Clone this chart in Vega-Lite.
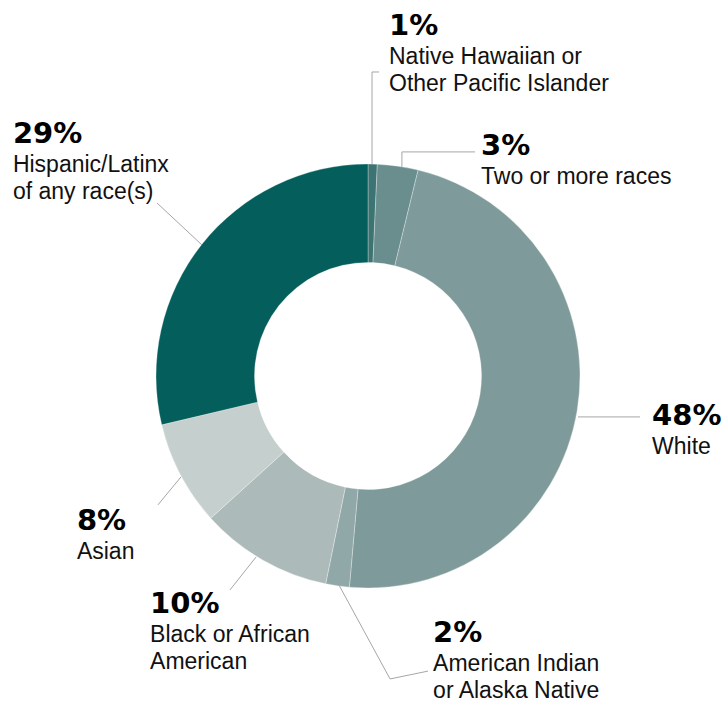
{
  "$schema": "https://vega.github.io/schema/vega-lite/v6.json",
  "width": 736,
  "height": 752,
  "autosize": {"type": "none"},
  "padding": 0,
  "background": "white",
  "config": {"view": {"stroke": null}},
  "datasets": {
    "groups": [
      {"group": "Native Hawaiian or Other Pacific Islander", "share": 0.7, "rank": 1},
      {"group": "Two or more races", "share": 3.1, "rank": 2},
      {"group": "White", "share": 47.6, "rank": 3},
      {"group": "American Indian or Alaska Native", "share": 1.8, "rank": 4},
      {"group": "Black or African American", "share": 10.1, "rank": 5},
      {"group": "Asian", "share": 8.0, "rank": 6},
      {"group": "Hispanic/Latinx of any race(s)", "share": 28.7, "rank": 7}
    ],
    "labels": [
      {"group": "Native Hawaiian or Other Pacific Islander", "pct": "1%", "desc": "Native Hawaiian or\nOther Pacific Islander", "u": 9.9, "v": 160.8},
      {"group": "Two or more races", "pct": "3%", "desc": "Two or more races", "u": 53.3, "v": 104.2},
      {"group": "White", "pct": "48%", "desc": "White", "u": 134.0, "v": -23.1},
      {"group": "American Indian or Alaska Native", "pct": "2%", "desc": "American Indian\nor Alaska Native", "u": 30.7, "v": -125.5},
      {"group": "Black or African American", "pct": "10%", "desc": "Black or African\nAmerican", "u": -102.8, "v": -111.8},
      {"group": "Asian", "pct": "8%", "desc": "Asian", "u": -137.3, "v": -72.6},
      {"group": "Hispanic/Latinx of any race(s)", "pct": "29%", "desc": "Hispanic/Latinx\nof any race(s)", "u": -167.5, "v": 109.9}
    ],
    "leaders": [
      {"group": "Native", "step": 1, "u": 1.9, "v": 100.0},
      {"group": "Native", "step": 2, "u": 1.9, "v": 143.4},
      {"group": "Native", "step": 3, "u": 5.2, "v": 143.4},
      {"group": "Two", "step": 1, "u": 16.0, "v": 98.6},
      {"group": "Two", "step": 2, "u": 16.0, "v": 105.7},
      {"group": "Two", "step": 3, "u": 50.5, "v": 105.7},
      {"group": "White", "step": 1, "u": 99.1, "v": -19.3},
      {"group": "White", "step": 2, "u": 128.3, "v": -19.3},
      {"group": "AmerInd", "step": 1, "u": -13.7, "v": -98.6},
      {"group": "AmerInd", "step": 2, "u": 10.4, "v": -142.9},
      {"group": "AmerInd", "step": 3, "u": 28.3, "v": -139.2},
      {"group": "Black", "step": 1, "u": -52.8, "v": -85.4},
      {"group": "Black", "step": 2, "u": -65.1, "v": -100.9},
      {"group": "Asian", "step": 1, "u": -88.2, "v": -47.6},
      {"group": "Asian", "step": 2, "u": -99.1, "v": -60.8},
      {"group": "Hispanic", "step": 1, "u": -78.3, "v": 61.8},
      {"group": "Hispanic", "step": 2, "u": -99.5, "v": 81.6}
    ]
  },
  "layer": [
    {
      "data": {"name": "groups"},
      "mark": {"type": "arc", "innerRadius": 113.5, "outerRadius": 212, "stroke": "#ffffff", "strokeWidth": 0.6, "strokeOpacity": 0.5},
      "encoding": {
        "theta": {"field": "share", "type": "quantitative", "stack": true},
        "order": {"field": "rank", "type": "quantitative"},
        "color": {
          "field": "group",
          "type": "nominal",
          "legend": null,
          "scale": {
            "domain": ["Native Hawaiian or Other Pacific Islander", "Two or more races", "White", "American Indian or Alaska Native", "Black or African American", "Asian", "Hispanic/Latinx of any race(s)"],
            "range": ["#3b7472", "#6a8e8e", "#7f9a9b", "#91a8a8", "#acbab9", "#c5cfce", "#035e5c"]
          }
        }
      }
    },
    {
      "data": {"name": "leaders"},
      "mark": {"type": "line", "color": "#a6a6a6", "strokeWidth": 1},
      "encoding": {
        "x": {"field": "u", "type": "quantitative", "scale": {"domain": [-173.58, 173.58], "nice": false, "zero": false}, "axis": null},
        "y": {"field": "v", "type": "quantitative", "scale": {"domain": [-177.36, 177.36], "nice": false, "zero": false}, "axis": null},
        "detail": {"field": "group", "type": "nominal"},
        "order": {"field": "step", "type": "quantitative"}
      }
    },
    {
      "data": {"name": "labels"},
      "mark": {"type": "text", "align": "left", "baseline": "alphabetic", "font": "DejaVu Sans", "fontWeight": "bold", "fontSize": 29, "color": "#000000"},
      "encoding": {
        "x": {"field": "u", "type": "quantitative"},
        "y": {"field": "v", "type": "quantitative"},
        "text": {"field": "pct", "type": "nominal"}
      }
    },
    {
      "data": {"name": "labels"},
      "mark": {"type": "text", "align": "left", "baseline": "alphabetic", "font": "Liberation Sans", "fontSize": 23, "lineHeight": 27, "lineBreak": "\n", "dy": 29, "color": "#111111"},
      "encoding": {
        "x": {"field": "u", "type": "quantitative"},
        "y": {"field": "v", "type": "quantitative"},
        "text": {"field": "desc", "type": "nominal"}
      }
    }
  ]
}
